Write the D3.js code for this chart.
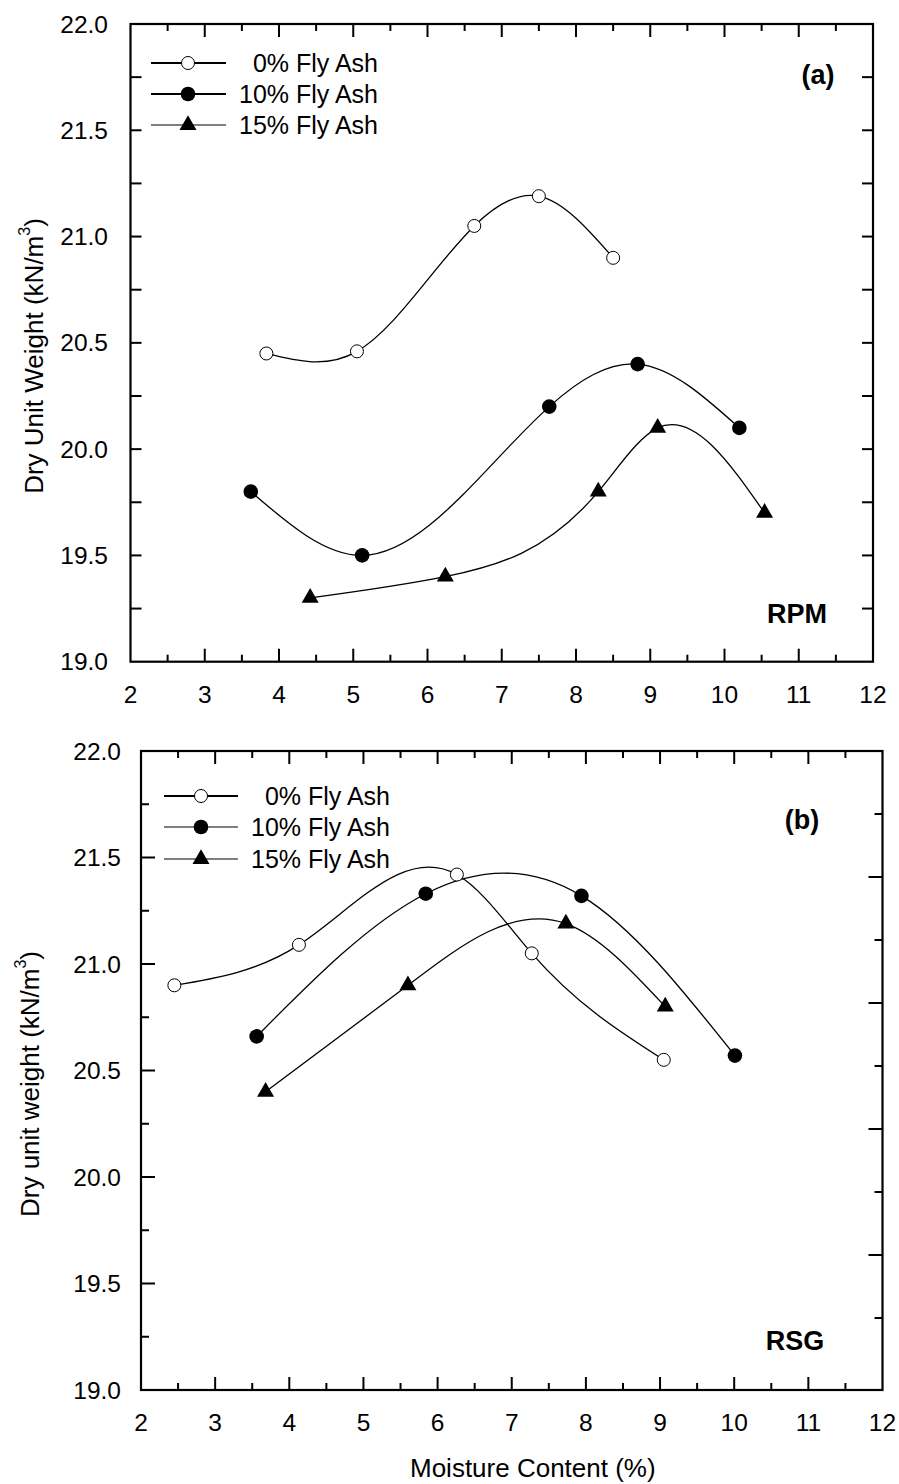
<!DOCTYPE html>
<html>
<head>
<meta charset="utf-8">
<script src="https://cdn.jsdelivr.net/npm/d3@7"></script>
<style>
  body { margin: 0; background: #fff; }
  svg { display: block; }
</style>
</head>
<body>
<div id="chart"></div>
<script>
// legend names
const seriesNames = ["0% Fly Ash", "10% Fly Ash", "15% Fly Ash"];

// (a) RPM
const rpmMoisture0 = [3.83, 5.05, 6.63, 7.50, 8.50];
const rpmWeight0 = [20.45, 20.46, 21.05, 21.19, 20.90];
const rpmMoisture10 = [3.62, 5.12, 7.64, 8.83, 10.20];
const rpmWeight10 = [19.80, 19.50, 20.20, 20.40, 20.10];
const rpmMoisture15 = [4.42, 6.24, 8.30, 9.10, 10.54];
const rpmWeight15 = [19.30, 19.40, 19.80, 20.10, 19.70];

// (b) RSG
const rsgMoisture0 = [2.45, 4.13, 6.26, 7.27, 9.05];
const rsgWeight0 = [20.90, 21.09, 21.42, 21.05, 20.55];
const rsgMoisture10 = [3.56, 5.84, 7.94, 10.01];
const rsgWeight10 = [20.66, 21.33, 21.32, 20.57];
const rsgMoisture15 = [3.68, 5.60, 7.73, 9.07];
const rsgWeight15 = [20.40, 20.90, 21.19, 20.80];

const xTicks = [2, 3, 4, 5, 6, 7, 8, 9, 10, 11, 12];
const yTicks = [19.0, 19.5, 20.0, 20.5, 21.0, 21.5, 22.0];

const W = 899, H = 1484;
const font = "'Liberation Sans', Arial, sans-serif";
const fs = 24.5;

const svg = d3.select("#chart").append("svg")
    .attr("width", W)
    .attr("height", H)
    .attr("font-family", font);

const zip = (xs, ys) => xs.map((x, i) => [x, ys[i]]);

// natural cubic spline of y as a function of x, drawn as bezier pieces
function curveSplineX(context) {
  let pts;
  return {
    areaStart() {}, areaEnd() {},
    lineStart() { pts = []; },
    point(x, y) { pts.push([+x, +y]); },
    lineEnd() {
      const n = pts.length - 1;
      if (n < 1) return;
      const h = [], d = [], M = new Array(n + 1).fill(0);
      for (let i = 0; i < n; i++) {
        h[i] = pts[i + 1][0] - pts[i][0];
        d[i] = (pts[i + 1][1] - pts[i][1]) / h[i];
      }
      if (n >= 2) {
        const a = [], b = [], c = [], r = [];
        for (let i = 1; i < n; i++) {
          a[i] = h[i - 1]; b[i] = 2 * (h[i - 1] + h[i]); c[i] = h[i]; r[i] = 6 * (d[i] - d[i - 1]);
        }
        for (let i = 2; i < n; i++) {
          const w = a[i] / b[i - 1];
          b[i] -= w * c[i - 1];
          r[i] -= w * r[i - 1];
        }
        M[n - 1] = r[n - 1] / b[n - 1];
        for (let i = n - 2; i >= 1; i--) M[i] = (r[i] - c[i] * M[i + 1]) / b[i];
      }
      const m = [];
      for (let i = 0; i < n; i++) m[i] = d[i] - h[i] * (2 * M[i] + M[i + 1]) / 6;
      m[n] = d[n - 1] + h[n - 1] * (M[n - 1] + 2 * M[n]) / 6;
      context.moveTo(pts[0][0], pts[0][1]);
      for (let i = 0; i < n; i++) {
        const [x0, y0] = pts[i], [x1, y1] = pts[i + 1], t = h[i] / 3;
        context.bezierCurveTo(x0 + t, y0 + m[i] * t, x1 - t, y1 - m[i + 1] * t, x1, y1);
      }
    }
  };
}

const panels = [
  {
    left: 130.5, right: 873, top: 24, bottom: 661.7,
    series: [zip(rpmMoisture0, rpmWeight0), zip(rpmMoisture10, rpmWeight10), zip(rpmMoisture15, rpmWeight15)],
    yTitle: "Dry Unit Weight (kN/m", titleX: 34, titleY: 356,
    label: "(a)", labelX: 818, labelY: 84,
    tag: "RPM", tagX: 797, tagY: 623,
    legend: { x1: 151, x2: 226, mx: 188, tx: 378, ys: [63, 94, 125], w: [2, 2, 1.2] },
    yTickLen: [11, 11], rightTicks: null, tickLabelEnd: 108
  },
  {
    left: 141, right: 882.5, top: 751, bottom: 1390,
    series: [zip(rsgMoisture0, rsgWeight0), zip(rsgMoisture10, rsgWeight10), zip(rsgMoisture15, rsgWeight15)],
    yTitle: "Dry unit weight (kN/m", titleX: 30, titleY: 1084,
    label: "(b)", labelX: 802, labelY: 829,
    tag: "RSG", tagX: 795, tagY: 1350,
    legend: { x1: 164, x2: 238, mx: 201, tx: 390, ys: [796, 827, 859], w: [2, 1.2, 1.2] },
    yTickLen: [14, 8], rightTicks: 63, tickLabelEnd: 121
  }
];

function drawMarker(g, k, cx, cy) {
  if (k === 0) {
    g.append("circle").attr("cx", cx).attr("cy", cy).attr("r", 6.5)
      .attr("fill", "#fff").attr("stroke", "#000").attr("stroke-width", 1);
  } else if (k === 1) {
    g.append("circle").attr("cx", cx).attr("cy", cy).attr("r", 7.3)
      .attr("fill", "#000");
  } else {
    g.append("path").attr("transform", `translate(${cx},${cy})`)
      .attr("d", d3.symbol(d3.symbolTriangle, 125)())
      .attr("fill", "#000");
  }
}

panels.forEach(p => {
  const x = d3.scaleLinear().domain([2, 12]).range([p.left, p.right]);
  const y = d3.scaleLinear().domain([19, 22]).range([p.bottom, p.top]);
  const g = svg.append("g");

  // curves
  const line = d3.line().x(d => x(d[0])).y(d => y(d[1])).curve(curveSplineX);
  p.series.forEach(s => {
    g.append("path").attr("d", line(s))
      .attr("fill", "none").attr("stroke", "#000").attr("stroke-width", 1.3);
  });
  p.series.forEach((s, k) => s.forEach(d => drawMarker(g, k, x(d[0]), y(d[1]))));

  // x ticks (bottom + top, inward)
  const xMinor = d3.range(2.5, 12, 1);
  const tk = g.append("g").attr("stroke", "#000").attr("stroke-width", 2);
  xTicks.slice(1, -1).forEach(v => {
    tk.append("line").attr("x1", x(v)).attr("x2", x(v)).attr("y1", p.bottom).attr("y2", p.bottom - 13);
    tk.append("line").attr("x1", x(v)).attr("x2", x(v)).attr("y1", p.top).attr("y2", p.top + 13);
  });
  xMinor.forEach(v => {
    tk.append("line").attr("x1", x(v)).attr("x2", x(v)).attr("y1", p.bottom).attr("y2", p.bottom - 7);
    tk.append("line").attr("x1", x(v)).attr("x2", x(v)).attr("y1", p.top).attr("y2", p.top + 7);
  });

  // y ticks every 0.25
  d3.range(19.25, 22, 0.25).forEach(v => {
    const major = Math.abs(v * 2 - Math.round(v * 2)) < 1e-6;
    const len = major ? p.yTickLen[0] : p.yTickLen[1];
    tk.append("line").attr("x1", p.left).attr("x2", p.left + len).attr("y1", y(v)).attr("y2", y(v));
    if (!p.rightTicks) {
      tk.append("line").attr("x1", p.right).attr("x2", p.right - len).attr("y1", y(v)).attr("y2", y(v));
    }
  });
  if (p.rightTicks) {
    const yr = d3.scaleLinear().domain([0, 1]).range([p.top, p.top + p.rightTicks]);
    d3.range(1, 10).forEach(i => {
      const len = i % 2 === 0 ? 14 : 8;
      tk.append("line").attr("x1", p.right).attr("x2", p.right - len).attr("y1", yr(i)).attr("y2", yr(i));
    });
  }

  // frame
  g.append("rect").attr("x", p.left).attr("y", p.top)
    .attr("width", p.right - p.left).attr("height", p.bottom - p.top)
    .attr("fill", "none").attr("stroke", "#000").attr("stroke-width", 2.2);

  // tick labels
  g.append("g").selectAll("text").data(xTicks).join("text")
    .attr("x", d => x(d)).attr("y", p.bottom + 41)
    .attr("text-anchor", "middle").attr("font-size", fs)
    .text(d => d);
  g.append("g").selectAll("text").data(yTicks).join("text")
    .attr("x", p.tickLabelEnd).attr("y", d => y(d)).attr("dy", "0.35em")
    .attr("text-anchor", "end").attr("font-size", fs)
    .text(d => d.toFixed(1));

  // y title
  const t = g.append("text")
    .attr("transform", `translate(${p.titleX},${p.titleY}) rotate(-90)`)
    .attr("text-anchor", "middle").attr("font-size", 26).attr("dy", "0.35em");
  t.append("tspan").text(p.yTitle);
  t.append("tspan").attr("font-size", 16).attr("dy", "-0.8em").text("3");
  t.append("tspan").attr("dy", "0.5em").text(")");

  // panel labels
  g.append("text").attr("x", p.labelX).attr("y", p.labelY).attr("text-anchor", "middle")
    .attr("font-size", 27).attr("font-weight", "bold").text(p.label);
  g.append("text").attr("x", p.tagX).attr("y", p.tagY).attr("text-anchor", "middle")
    .attr("font-size", 27).attr("font-weight", "bold").text(p.tag);

  // legend
  const L = p.legend;
  seriesNames.forEach((name, k) => {
    const ly = L.ys[k];
    g.append("line").attr("x1", L.x1).attr("x2", L.x2).attr("y1", ly).attr("y2", ly)
      .attr("stroke", "#000").attr("stroke-width", L.w[k]);
    drawMarker(g, k, L.mx, ly);
    g.append("text").attr("x", L.tx).attr("y", ly).attr("dy", "0.35em")
      .attr("text-anchor", "end").attr("font-size", 25).text(name);
  });
});

// x title
svg.append("text").attr("x", 410).attr("y", 1477)
  .attr("font-size", 26)
  .text("Moisture Content (%)");
</script>
</body>
</html>
